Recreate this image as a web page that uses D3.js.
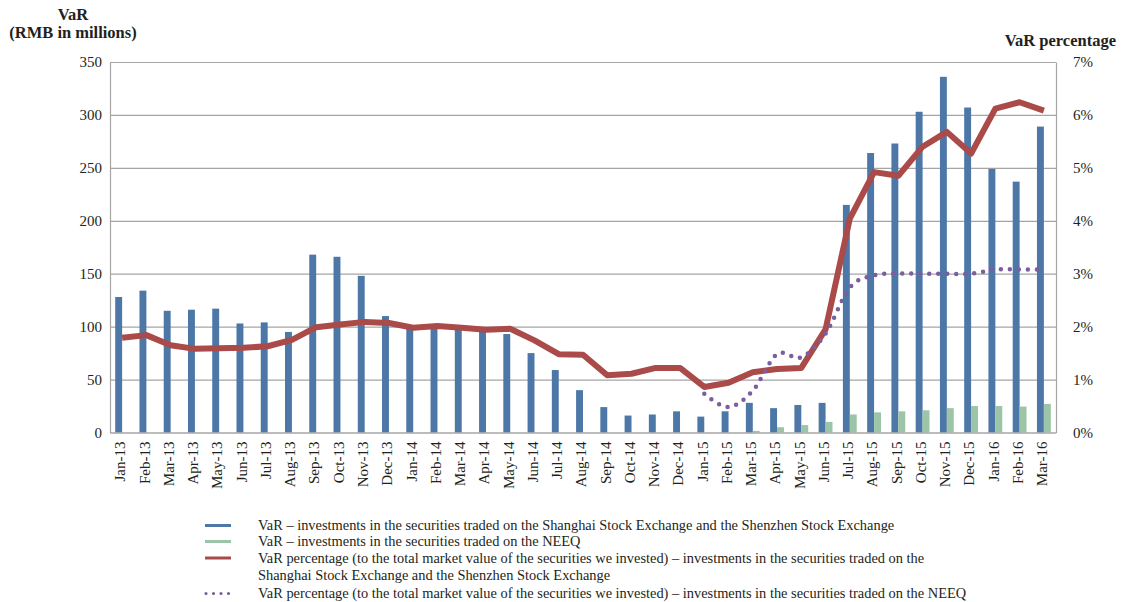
<!DOCTYPE html>
<html>
<head>
<meta charset="utf-8">
<script src="https://cdn.jsdelivr.net/npm/d3@7"></script>
<style>
  html, body { margin: 0; padding: 0; background: #fff; }
  svg text { font-family: "Liberation Serif", "Times New Roman", serif; fill: #231F20; }
</style>
</head>
<body>
<svg id="chart" width="1123" height="602"></svg>
<script>
const months = ["Jan-13","Feb-13","Mar-13","Apr-13","May-13","Jun-13","Jul-13","Aug-13","Sep-13","Oct-13","Nov-13","Dec-13",
  "Jan-14","Feb-14","Mar-14","Apr-14","May-14","Jun-14","Jul-14","Aug-14","Sep-14","Oct-14","Nov-14","Dec-14",
  "Jan-15","Feb-15","Mar-15","Apr-15","May-15","Jun-15","Jul-15","Aug-15","Sep-15","Oct-15","Nov-15","Dec-15",
  "Jan-16","Feb-16","Mar-16"];

const varSSE = [128,134,115,116,117,103,104,95,168,166,148,110,
  98,99,97,95,93,75,59,40,24,16,17,20,
  15,20,28,23,26,28,215,264,273,303,336,307,
  249,237,289];

const varNEEQ = [null,null,null,null,null,null,null,null,null,null,null,null,
  null,null,null,null,null,null,null,null,null,null,null,null,
  null,null,1.5,5,7,10,17,19,20,21,23,25,
  25,24.5,27];

const pctSSE = [1.79,1.84,1.65,1.58,1.59,1.60,1.63,1.75,1.99,2.04,2.09,2.07,
  1.98,2.01,1.98,1.94,1.96,1.74,1.48,1.47,1.08,1.11,1.22,1.22,
  0.86,0.94,1.14,1.20,1.22,1.95,4.04,4.92,4.85,5.40,5.68,5.27,
  6.12,6.24,6.08];

const pctNEEQ = [null,null,null,null,null,null,null,null,null,null,null,null,
  null,null,null,null,null,null,null,null,null,null,null,null,
  0.73,0.48,0.79,1.48,1.42,1.87,2.74,2.97,3.00,3.00,3.00,3.00,
  3.08,3.08,3.08];

const leftTicks = [0,50,100,150,200,250,300,350];
const rightTicks = [0,1,2,3,4,5,6,7];
const rightTickLabels = ["0%","1%","2%","3%","4%","5%","6%","7%"];

const legendLabels = [
  ["VaR – investments in the securities traded on the Shanghai Stock Exchange and the Shenzhen Stock Exchange"],
  ["VaR – investments in the securities traded on the NEEQ"],
  ["VaR percentage (to the total market value of the securities we invested) – investments in the securities traded on the",
   "Shanghai Stock Exchange and the Shenzhen Stock Exchange"],
  ["VaR percentage (to the total market value of the securities we invested) – investments in the securities traded on the NEEQ"]
];

const colors = { blue: "#4C77A7", green: "#9CC4A7", red: "#AA4A49", purple: "#7A5E9F", grid: "#A5A5A5" };

const svg = d3.select("#chart");
const L = 110, R = 1056, T = 62, B = 432.5;

const x = d3.scaleBand().domain(months).range([L, R]).padding(0);
const yL = d3.scaleLinear().domain([0, 350]).range([B, T]);
const yR = d3.scaleLinear().domain([0, 7]).range([B, T]);
const bw = x.bandwidth() * 0.285;

// gridlines
const grid = svg.append("g").attr("transform", `translate(${L},0)`)
  .call(d3.axisLeft(yL).tickValues(leftTicks).tickSize(-(R - L)).tickFormat(""));
grid.select(".domain").remove();
grid.selectAll("line").attr("stroke", colors.grid).attr("stroke-width", 1.2);

// left axis
const ax = svg.append("g").attr("transform", `translate(${L},0)`)
  .call(d3.axisLeft(yL).tickValues(leftTicks).tickSize(0).tickPadding(8));
ax.select(".domain").attr("stroke", colors.grid).attr("stroke-width", 1.2);
ax.selectAll("text").attr("font-size", 15).style("font-family", '"Liberation Serif", serif').attr("fill", "#231F20");

// right axis
const ar = svg.append("g").attr("transform", `translate(${R},0)`)
  .call(d3.axisRight(yR).tickValues(rightTicks).tickSize(0).tickPadding(17)
    .tickFormat((d, i) => rightTickLabels[i]));
ar.select(".domain").attr("stroke", colors.grid).attr("stroke-width", 1.2);
ar.selectAll("text").attr("font-size", 15).style("font-family", '"Liberation Serif", serif').attr("fill", "#231F20");

// bars
svg.append("g").selectAll("rect.sse").data(months).join("rect")
  .attr("x", d => x(d) + x.bandwidth() / 2 - bw)
  .attr("width", bw)
  .attr("y", (d, i) => yL(varSSE[i]))
  .attr("height", (d, i) => yL(0) - yL(varSSE[i]))
  .attr("fill", colors.blue);

svg.append("g").selectAll("rect.neeq").data(months.filter((d, i) => varNEEQ[i] != null)).join("rect")
  .attr("x", d => x(d) + x.bandwidth() / 2)
  .attr("width", bw)
  .attr("y", d => yL(varNEEQ[months.indexOf(d)]))
  .attr("height", d => yL(0) - yL(varNEEQ[months.indexOf(d)]))
  .attr("fill", colors.green);

// bottom axis
const axb = svg.append("g").attr("transform", `translate(0,${B})`)
  .call(d3.axisBottom(x).tickSize(0));
axb.select(".domain").attr("stroke", colors.grid).attr("stroke-width", 1.2);
axb.selectAll("text")
  .attr("font-size", 15).style("font-family", '"Liberation Serif", serif').attr("fill", "#231F20")
  .attr("text-anchor", "end")
  .attr("transform", "rotate(-90)")
  .attr("x", -9).attr("y", 0).attr("dy", "0.22em");

// lines
const redLine = d3.line()
  .defined(d => d[1] != null)
  .x(d => x(d[0]) + x.bandwidth() / 2)
  .y(d => yR(d[1]))
  .curve(d3.curveLinear);
svg.append("path")
  .datum(months.map((m, i) => [m, pctSSE[i]]))
  .attr("d", redLine)
  .attr("fill", "none").attr("stroke", colors.red).attr("stroke-width", 6)
  .attr("stroke-linejoin", "round").attr("stroke-linecap", "butt");

const purpleLine = d3.line()
  .x(d => x(d[0]) + x.bandwidth() / 2)
  .y(d => yR(d[1]))
  .curve(d3.curveCardinal.tension(0));
svg.append("path")
  .datum(months.map((m, i) => [m, pctNEEQ[i]]).filter(d => d[1] != null))
  .attr("d", purpleLine)
  .attr("fill", "none").attr("stroke", colors.purple).attr("stroke-width", 4.5)
  .attr("stroke-dasharray", "0 9").attr("stroke-linecap", "round");

// titles
svg.append("text").attr("x", 73).attr("y", 20).attr("text-anchor", "middle")
  .attr("font-size", 16.5).attr("font-weight", "bold").text("VaR");
svg.append("text").attr("x", 73).attr("y", 38).attr("text-anchor", "middle")
  .attr("font-size", 16.5).attr("font-weight", "bold").text("(RMB in millions)");
svg.append("text").attr("x", 1116).attr("y", 46).attr("text-anchor", "end")
  .attr("font-size", 16.5).attr("font-weight", "bold").text("VaR percentage");

// legend
const lg = svg.append("g");
const rowY = [525.5, 541.5, 558, 593.5];
const swatch = [
  { c: colors.blue, dash: null, w: 3 },
  { c: colors.green, dash: null, w: 3 },
  { c: colors.red, dash: null, w: 3 },
  { c: colors.purple, dash: "0 7.5", w: 3.2 }
];
legendLabels.forEach((lines, i) => {
  const s = swatch[i];
  const ln = lg.append("line")
    .attr("x1", s.dash ? 206 : 205).attr("x2", s.dash ? 229 : 231)
    .attr("y1", rowY[i]).attr("y2", rowY[i])
    .attr("stroke", s.c).attr("stroke-width", s.w);
  if (s.dash) ln.attr("stroke-dasharray", s.dash).attr("stroke-linecap", "round");
  lines.forEach((t, j) => {
    lg.append("text").attr("x", 258).attr("y", rowY[i] + 4.5 + j * 17.5)
      .attr("font-size", 14.4).text(t);
  });
});
</script>
</body>
</html>
